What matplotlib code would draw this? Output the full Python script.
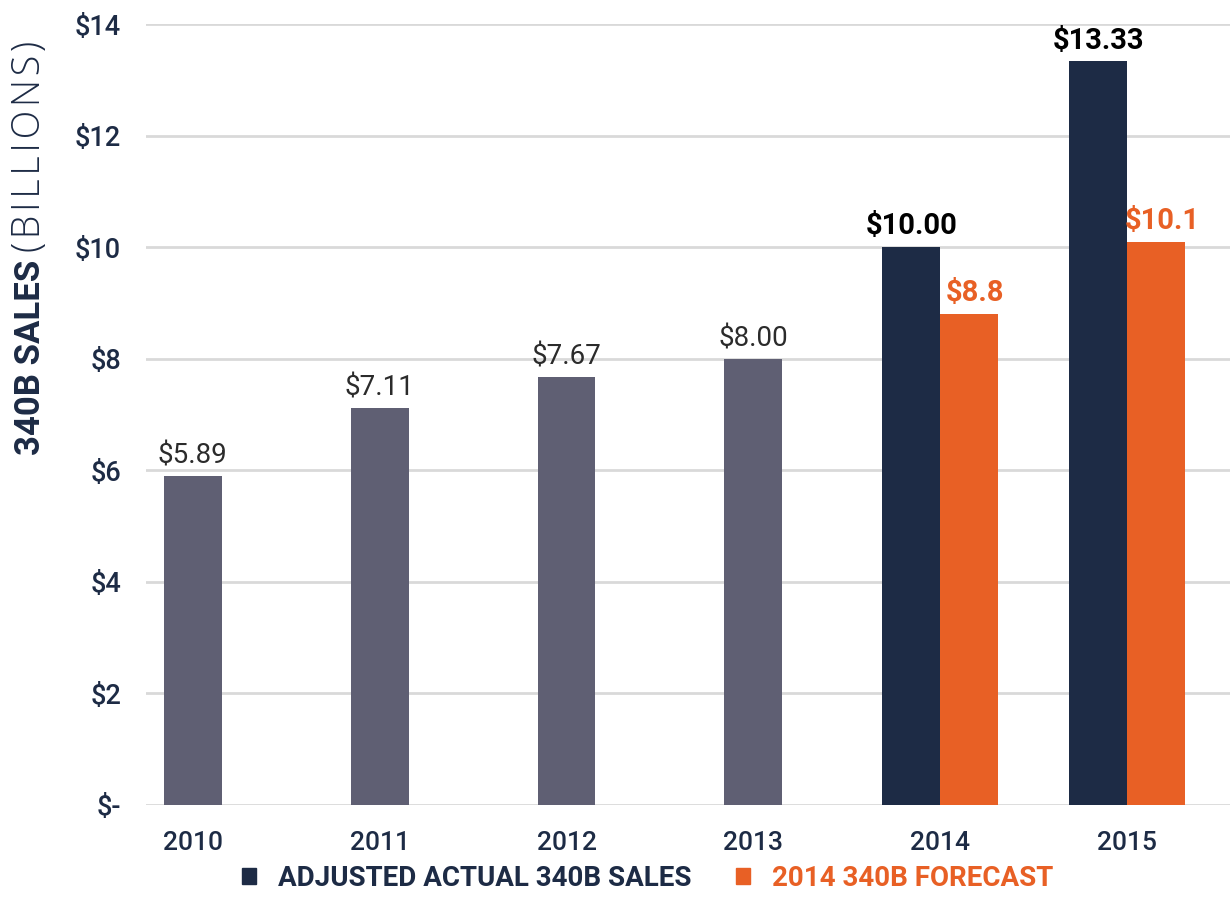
import matplotlib.pyplot as plt
import numpy as np

plt.rcParams['font.family'] = ['Roboto', 'DejaVu Sans']

# data
years = ['2010', '2011', '2012', '2013', '2014', '2015']
actual = [5.89, 7.11, 7.67, 8.00, 10.00, 13.33]
forecast = [None, None, None, None, 8.8, 10.1]
value_labels = ['$5.89', '$7.11', '$7.67', '$8.00', '$10.00', '$13.33']
forecast_labels = [None, None, None, None, '$8.8', '$10.1']
y_ticks = [0, 2, 4, 6, 8, 10, 12, 14]
y_ticklabels = ['$-', '$2', '$4', '$6', '$8', '$10', '$12', '$14']

grey = '#5f5f73'
navy = '#1d2b45'
orange = '#e86025'

fig = plt.figure(figsize=(12.3, 9.16), dpi=100)
ax = fig.add_axes([146 / 1230, 1 - 805 / 916, 1 - 146 / 1230, (805 - 24) / 916])

w = 0.31
x = np.arange(len(years))
for i, (a, f) in enumerate(zip(actual, forecast)):
    if f is None:
        ax.bar(x[i], a, width=w, color=grey, zorder=3)
        ax.text(x[i], a + 0.12, value_labels[i], ha='center', va='bottom',
                fontsize=20, fontweight='normal', color='#2b2b2b')
    else:
        ax.bar(x[i] - w / 2, a, width=w, color=navy, zorder=3)
        ax.bar(x[i] + w / 2, f, width=w, color=orange, zorder=3)
        ax.text(x[i] - w / 2, a + 0.12, value_labels[i], ha='center', va='bottom',
                fontsize=21, fontweight='bold', color='black')
        ax.text(x[i] + w / 2 + 0.03, f + 0.12, forecast_labels[i], ha='center', va='bottom',
                fontsize=21, fontweight='bold', color=orange)

ax.set_xlim(-0.25, 5.55)
ax.set_ylim(0, 14)
ax.set_yticks(y_ticks)
ax.set_yticklabels(y_ticklabels, fontsize=19.5, fontweight='medium', color=navy)
ax.set_xticks(x)
ax.set_xticklabels(years, fontsize=19, fontweight='medium', color=navy)
ax.tick_params(axis='both', length=0)
ax.tick_params(axis='y', pad=18)
ax.tick_params(axis='x', pad=19)
ax.yaxis.grid(True, color='#d9d9d9', linewidth=2, zorder=0)
ax.set_axisbelow(True)
for s in ax.spines.values():
    s.set_visible(False)

# y label in two weights
t1 = fig.text(30 / 1230, 1 - 455 / 916, '340B SALES', rotation=90, rotation_mode='anchor',
              ha='left', va='center', fontsize=25, fontweight='bold', color=navy)
fig.canvas.draw()
bb = t1.get_window_extent()
fig.text(30 / 1230, (bb.y1 + 8) / fig.bbox.height, '\u200a'.join('(BILLIONS)'), rotation=90,
         rotation_mode='anchor', ha='left', va='center', fontsize=27,
         fontweight='light', color=navy, family=['Open Sans', 'DejaVu Sans'])

# legend
h1 = plt.Rectangle((0, 0), 1, 1, color=navy)
h2 = plt.Rectangle((0, 0), 1, 1, color=orange)
leg = fig.legend([h1, h2], ['ADJUSTED ACTUAL 340B SALES', '2014 340B FORECAST'],
                 loc='center', bbox_to_anchor=(648 / 1230, 1 - 878 / 916), ncol=2,
                 frameon=False, prop={'size': 20, 'weight': 'bold'},
                 handlelength=0.5, handleheight=0.5, handletextpad=0.8, columnspacing=1.6)
for txt, c in zip(leg.get_texts(), [navy, orange]):
    txt.set_color(c)

fig.savefig('out.png', dpi=100)
